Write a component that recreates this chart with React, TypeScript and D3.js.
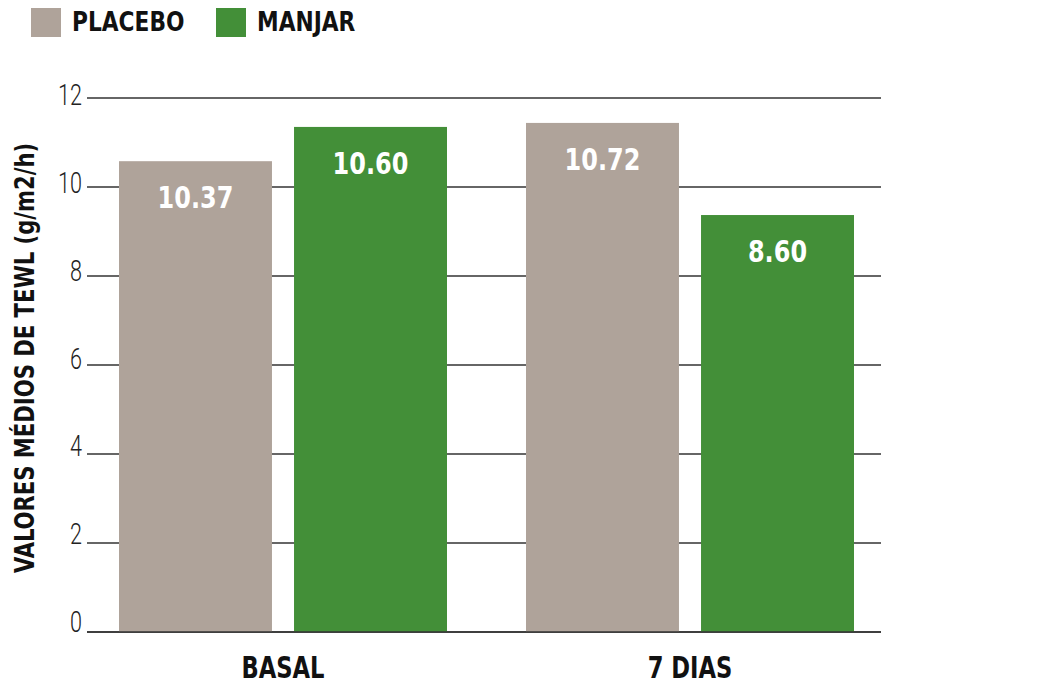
import { useEffect, useRef } from 'react'
import * as d3 from 'd3'

const CATEGORIES = ['BASAL', '7 DIAS']
const SERIES = ['PLACEBO', 'MANJAR']
// bar heights as drawn in the picture
const PLACEBO_VALUES = [10.58, 11.44]
const MANJAR_VALUES = [11.35, 9.37]
// numbers printed inside the bars
const PLACEBO_LABELS = ['10.37', '10.72']
const MANJAR_LABELS = ['10.60', '8.60']
const Y_TICKS = [0, 2, 4, 6, 8, 10, 12]

const COLOR: Record<string, string> = {
  PLACEBO: '#afa39a',
  MANJAR: '#438f38',
}

const FONT = '"DejaVu Sans Condensed", "DejaVu Sans", sans-serif'
const LIGHT_FONT = 'Roboto, "DejaVu Sans", sans-serif'

export default function App() {
  const svgRef = useRef<SVGSVGElement>(null)
  const WIDTH = 1050
  const HEIGHT = 685

  useEffect(() => {
    if (!svgRef.current) return
    const svg = d3.select(svgRef.current)
    svg.selectAll('*').remove()

    const y = d3.scaleLinear().domain([0, 12]).range([632, 98])
    // tick labels in the original drift slightly from their gridlines
    const yLabel = d3.scaleLinear().domain([0, 12]).range([632, 105])
    const x0 = d3.scaleBand().domain(CATEGORIES).range([79.5, 893.5]).padding(0)
    const x1 = d3.scaleBand().domain(SERIES).range([39.5, 367.5]).paddingInner(0.126).paddingOuter(0)

    // text squeezed horizontally to mimic the condensed face of the original
    const narrowText = (
      parent: d3.Selection<any, any, any, any>,
      x: number, yy: number, txt: string, sx: number,
    ) => parent.append('text')
      .attr('transform', `translate(${x},${yy}) scale(${sx},1)`)
      .text(txt)

    const axisL = 87
    const axisR = 881
    svg.append('g').selectAll('line').data(Y_TICKS).join('line')
      .attr('x1', axisL).attr('x2', axisR)
      .attr('y1', d => y(d)).attr('y2', d => y(d))
      .attr('stroke', '#333').attr('stroke-width', 1.5)

    const yTicks = svg.append('g')
      .attr('font-family', LIGHT_FONT).attr('font-weight', 300)
      .attr('font-size', 30).attr('fill', '#222').attr('text-anchor', 'end')
    Y_TICKS.forEach(t => narrowText(yTicks, 82, yLabel(t), String(t), 0.72))

    const rows = CATEGORIES.map((c, i) => ({
      cat: c,
      bars: [
        { s: 'PLACEBO', v: PLACEBO_VALUES[i], label: PLACEBO_LABELS[i] },
        { s: 'MANJAR', v: MANJAR_VALUES[i], label: MANJAR_LABELS[i] },
      ],
    }))

    const groups = svg.append('g').selectAll('g').data(rows).join('g')
      .attr('transform', d => `translate(${x0(d.cat)},0)`)

    groups.selectAll('rect').data(d => d.bars).join('rect')
      .attr('x', d => x1(d.s)!)
      .attr('width', x1.bandwidth())
      .attr('y', d => y(d.v))
      .attr('height', d => y(0) - y(d.v))
      .attr('fill', d => COLOR[d.s])

    groups.each(function (d) {
      const g = d3.select(this)
        .append('g')
        .attr('font-family', FONT).attr('font-weight', 'bold')
        .attr('font-size', 31).attr('fill', '#fff').attr('text-anchor', 'middle')
      d.bars.forEach(b => {
        narrowText(g, x1(b.s)! + x1.bandwidth() / 2, y(b.v) + 47, b.label, 0.86)
      })
    })

    // baseline on top of bars
    svg.append('line')
      .attr('x1', axisL).attr('x2', axisR)
      .attr('y1', y(0)).attr('y2', y(0))
      .attr('stroke', '#333').attr('stroke-width', 1.5)

    // category labels
    const xLab = svg.append('g')
      .attr('font-family', FONT).attr('font-weight', 'bold')
      .attr('font-size', 30).attr('fill', '#111').attr('text-anchor', 'middle')
    CATEGORIES.forEach(c => narrowText(xLab, x0(c)! + x0.bandwidth() / 2, 678, c, 0.84))

    // y title
    svg.append('text')
      .attr('transform', 'translate(34,358) rotate(-90) scale(0.87,1)')
      .attr('text-anchor', 'middle')
      .attr('font-family', FONT).attr('font-weight', 'bold')
      .attr('font-size', 27).attr('fill', '#111')
      .text('VALORES MÉDIOS DE TEWL (g/m2/h)')

    // legend
    const legendX = [31, 216]
    SERIES.forEach((s, i) => {
      const g = svg.append('g').attr('transform', `translate(${legendX[i]},8)`)
      g.append('rect').attr('width', 30).attr('height', 29).attr('fill', COLOR[s])
      const t = g.append('g')
        .attr('font-family', FONT).attr('font-weight', 'bold')
        .attr('font-size', 26).attr('fill', '#111')
      narrowText(t, 41, 23, s, 0.93)
    })
  }, [])

  return (
    <svg
      ref={svgRef}
      width={WIDTH}
      height={HEIGHT}
      style={{ position: 'absolute', left: 0, top: 0, background: '#fff' }}
    />
  )
}
